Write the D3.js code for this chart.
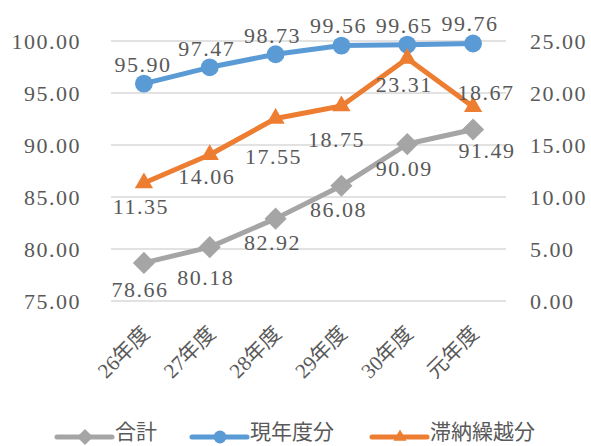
<!DOCTYPE html>
<html>
<head>
<meta charset="utf-8">
<script src="https://cdn.jsdelivr.net/npm/d3@7"></script>
<style>
  html, body { margin: 0; padding: 0; background: #fff; }
  svg { display: block; }
  text { font-family: "Liberation Serif", "Noto Sans CJK JP", serif; fill: #595959; }
</style>
</head>
<body>
<svg id="chart" width="591" height="446"></svg>
<script>
const categories = ["26年度", "27年度", "28年度", "29年度", "30年度", "元年度"];
const total = [78.66, 80.18, 82.92, 86.08, 90.09, 91.49];        // 合計 (left axis)
const current = [95.90, 97.47, 98.73, 99.56, 99.65, 99.76];      // 現年度分 (left axis)
const arrears = [11.35, 14.06, 17.55, 18.75, 23.31, 18.67];      // 滞納繰越分 (right axis)
const leftTicks = [75, 80, 85, 90, 95, 100];
const rightTicks = [0, 5, 10, 15, 20, 25];

const svg = d3.select("#chart");
const plot = { left: 111, right: 506, top: 41, bottom: 301 };

const x = d3.scaleBand().domain(categories).range([plot.left, plot.right]);
const yLeft = d3.scaleLinear().domain([75, 100]).range([plot.bottom, plot.top]);
const yRight = d3.scaleLinear().domain([0, 25]).range([plot.bottom, plot.top]);
const cx = (c) => x(c) + x.bandwidth() / 2;

const series = [
  { name: "合計", values: total, y: yLeft, color: "#A5A5A5", marker: "diamond" },
  { name: "現年度分", values: current, y: yLeft, color: "#5B9BD5", marker: "circle" },
  { name: "滞納繰越分", values: arrears, y: yRight, color: "#ED7D31", marker: "triangle" },
];

// gridlines
svg.append("g")
  .selectAll("line")
  .data(leftTicks)
  .join("line")
  .attr("x1", plot.left)
  .attr("x2", plot.right)
  .attr("y1", (d) => yLeft(d))
  .attr("y2", (d) => yLeft(d))
  .attr("stroke", "#D9D9D9")
  .attr("stroke-width", 1.5);

// axes
const fmt = d3.format(".2f");
const leftAxis = svg.append("g")
  .attr("transform", `translate(${plot.left - 30},0)`)
  .call(d3.axisLeft(yLeft).tickValues(leftTicks).tickFormat(fmt).tickSize(0).tickPadding(0));
const rightAxis = svg.append("g")
  .attr("transform", `translate(${plot.right + 24},0)`)
  .call(d3.axisRight(yRight).tickValues(rightTicks).tickFormat(fmt).tickSize(0).tickPadding(0));
[leftAxis, rightAxis].forEach((g) => {
  g.select(".domain").remove();
  g.selectAll("text")
    .attr("fill", "#595959")
    .style("font-size", "22px")
    .style("letter-spacing", "1.5px")
    .attr("dy", "0.35em");
});

const bottomAxis = svg.append("g")
  .attr("transform", `translate(0,${plot.bottom})`)
  .call(d3.axisBottom(x).tickSize(0).tickPadding(0));
bottomAxis.select(".domain").remove();
bottomAxis.selectAll("text")
  .attr("fill", "#595959")
  .style("font-size", "21px")
  .attr("text-anchor", "end")
  .attr("y", 0)
  .attr("dy", 0)
  .attr("transform", "translate(7,34) rotate(-45)");

const symbolFor = {
  diamond: (s) => d3.symbol().type(d3.symbolDiamond2).size(s * 1.25),
  circle: (s) => d3.symbol().type(d3.symbolCircle).size(s),
  triangle: (s) => d3.symbol().type(d3.symbolTriangle2).size(s * 0.95),
};

series.forEach((s) => {
  const pts = categories.map((c, i) => ({ c, v: s.values[i] }));
  const line = d3.line().x((d) => cx(d.c)).y((d) => s.y(d.v));
  const g = svg.append("g");
  g.append("path")
    .datum(pts)
    .attr("d", line)
    .attr("fill", "none")
    .attr("stroke", s.color)
    .attr("stroke-width", 5)
    .attr("stroke-linejoin", "round")
    .attr("stroke-linecap", "round");
  g.selectAll("path.m")
    .data(pts)
    .join("path")
    .attr("class", "m")
    .attr("d", symbolFor[s.marker](250)())
    .attr("transform", (d) => `translate(${cx(d.c)},${s.y(d.v)})`)
    .attr("fill", s.color);
});

// data label placement: [dx, dy] from the point
const labelOffsets = {
  "合計": [[-4, 34], [-4, 38], [-3, 31], [-3, 31], [-3, 32], [14, 28]],
  "現年度分": [[-1, -12], [-3, -11], [-3, -11], [-3, -13], [-3, -12], [-3, -12]],
  "滞納繰越分": [[-3, 31], [-3, 29], [-2, 46], [-5, 41], [-3, 33], [13, -7]],
};
series.forEach((s) => {
  svg.append("g")
    .selectAll("text")
    .data(categories.map((c, i) => ({ c, v: s.values[i], off: labelOffsets[s.name][i] })))
    .join("text")
    .attr("x", (d) => cx(d.c) + d.off[0])
    .attr("y", (d) => s.y(d.v) + d.off[1])
    .attr("text-anchor", "middle")
    .style("font-size", "22px")
    .style("letter-spacing", "1.5px")
    .text((d) => fmt(d.v));
});

// legend
const legendItems = [
  { s: series[0], x: 57 },
  { s: series[1], x: 192 },
  { s: series[2], x: 372 },
];
const legendY = 437;
legendItems.forEach(({ s, x: lx }) => {
  const g = svg.append("g").attr("transform", `translate(${lx},${legendY})`);
  g.append("line")
    .attr("x1", 0).attr("x2", 55)
    .attr("stroke", s.color)
    .attr("stroke-width", 5)
    .attr("stroke-linecap", "round");
  g.append("path")
    .attr("d", symbolFor[s.marker](130)())
    .attr("transform", "translate(28,0)")
    .attr("fill", s.color);
  g.append("text")
    .attr("x", 58)
    .attr("y", -5)
    .attr("dy", "0.35em")
    .style("font-size", "21px")
    .text(s.name);
});
</script>
</body>
</html>
